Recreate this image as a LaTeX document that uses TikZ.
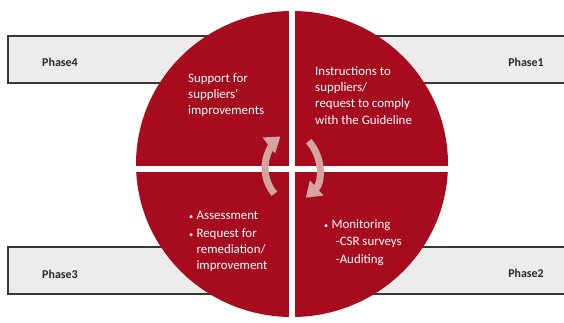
\documentclass[tikz,border=0pt]{standalone}
\usepackage{fontspec}
\setmainfont{Carlito}
\usetikzlibrary{arrows.meta}

\definecolor{cyclered}{RGB}{166,12,30}
\definecolor{barfill}{RGB}{236,236,236}
\definecolor{baredge}{RGB}{55,55,55}
\definecolor{turnpink}{RGB}{214,164,160}
\definecolor{phasegray}{RGB}{40,40,40}

\newcommand{\itemdot}{{\scriptsize\textbullet}\hspace{0.25em}}

\begin{document}
\begin{tikzpicture}[
		x=0.03cm, y=0.03cm,
		phase bar/.style={fill=barfill},
		bar edge/.style={draw=baredge, line width=0.9pt},
		phase label/.style={font=\fontsize{10.2}{12}\selectfont\bfseries, text=phasegray, inner sep=0pt},
		step text/.style={font=\fontsize{11}{14}\selectfont, text=white, align=left, anchor=north west, inner sep=0pt},
		gap line/.style={white, line width=0.16cm},
		turn arrow/.style={turnpink, line width=0.21cm, -{Triangle[width=0.58cm, length=0.44cm]}}
		]
		
		\useasboundingbox (0,0) rectangle (564,322);
		
		% ---------------------------------------------------------
		% Phase bars behind the circle
		% ---------------------------------------------------------
		\foreach \lo/\hi in {239/286, 28/75} {
			\fill[phase bar] (8,\lo) rectangle (564,\hi);
			\draw[bar edge] (564,\hi) -- (8,\hi) -- (8,\lo) -- (564,\lo);
		}
		
		\node[phase label] (phase4) at (60,260) {Phase4};
		\node[phase label] (phase1) at (526,260) {Phase1};
		\node[phase label] (phase3) at (60,48) {Phase3};
		\node[phase label] (phase2) at (526,49) {Phase2};
		
		% ---------------------------------------------------------
		% The red circle, cut into four quarters
		% ---------------------------------------------------------
		\fill[cyclered] (292,158) ellipse [x radius=4.68cm, y radius=4.59cm];
		\draw[gap line] (292,4) -- (292,318);
		\draw[gap line] (130,153) -- (454,153);
		
		% turning arrows in the middle
		\draw[turn arrow] (305,154) ++(220:1.2cm) arc[start angle=220, end angle=128, radius=1.2cm];
		\draw[turn arrow] (279,154) ++(42:1.2cm) arc[start angle=42, end angle=-48, radius=1.2cm];
		
		% ---------------------------------------------------------
		% Quarter texts
		% ---------------------------------------------------------
		\node[step text] (support) at (188,249) {Support for\\suppliers'\\improvements};
		\node[step text] (instruct) at (315,256) {Instructions to\\suppliers/\\request to comply\\with the Guideline};
		\node[step text, font=\fontsize{11}{13.5}\selectfont] (assess) at (189,111)
			{\itemdot Assessment\\[2pt]\itemdot Request for\\\phantom{\itemdot}remediation/\\\phantom{\itemdot}improvement};
		\node[step text, font=\fontsize{11}{15}\selectfont] (monitor) at (324,103)
			{\itemdot Monitoring\\\hspace{0.9em}-CSR surveys\\\hspace{0.9em}-Auditing};
		
	\end{tikzpicture}
\end{document}
